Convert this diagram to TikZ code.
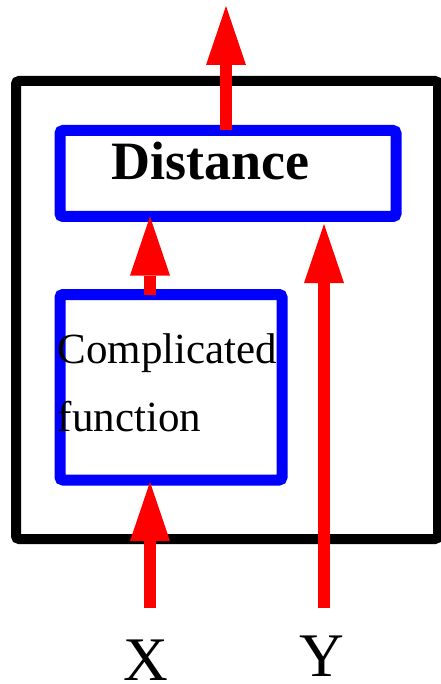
\documentclass[tikz,border=0pt]{standalone}
\usepackage{fontspec}
\setmainfont{Liberation Serif}
\usetikzlibrary{arrows.meta}
\begin{document}
\begin{tikzpicture}[x=1pt,y=-1pt,
  framebox/.style={draw=black,line width=10pt,rounded corners=3pt,outer sep=0pt,inner sep=0pt},
  bluebox/.style={draw=blue,line width=11pt,rounded corners=3pt,outer sep=0pt,inner sep=0pt},
  redarrow/.style={draw=red,line width=12pt,-{Triangle[length=59pt,width=40pt,line width=0pt]}},
  boxtext/.style={anchor=base west,inner sep=0pt,font=\fontsize{43}{50}\selectfont},
  iolabel/.style={anchor=base,inner sep=0pt,font=\fontsize{62}{70}\selectfont},
]
\useasboundingbox (0,0) rectangle (440,684);
\node[framebox,minimum width=422pt,minimum height=458pt] (frame) at (227,310) {};
\node[bluebox,minimum width=336pt,minimum height=86pt] (dist) at (228,173.5) {};
\node[bluebox,minimum width=222pt,minimum height=185.5pt] (comp) at (171,387.25) {};
\node[anchor=base west,inner sep=0pt,font=\fontsize{54}{60}\selectfont\bfseries] (disttext) at (111,180) {Distance};
\node[boxtext] (comp1) at (57.5,363) {Complicated};
\node[boxtext] (comp2) at (57.5,431) {function};
\node[iolabel] (xlab) at (146,680) {X};
\node[iolabel] (ylab) at (322,676) {Y};
\coordinate (xin) at (150,608);
\coordinate (yin) at (324,608);
\coordinate (out) at (226,6);
\draw[redarrow] (dist.north -| out) -- (out);
\draw[redarrow] (comp.north -| xin) -- (dist.south -| xin);
\draw[redarrow] (yin) -- ([yshift=-7.5pt]dist.south -| yin);
\draw[redarrow] (xin) -- ([yshift=-2pt]comp.south -| xin);
\end{tikzpicture}
\end{document}
